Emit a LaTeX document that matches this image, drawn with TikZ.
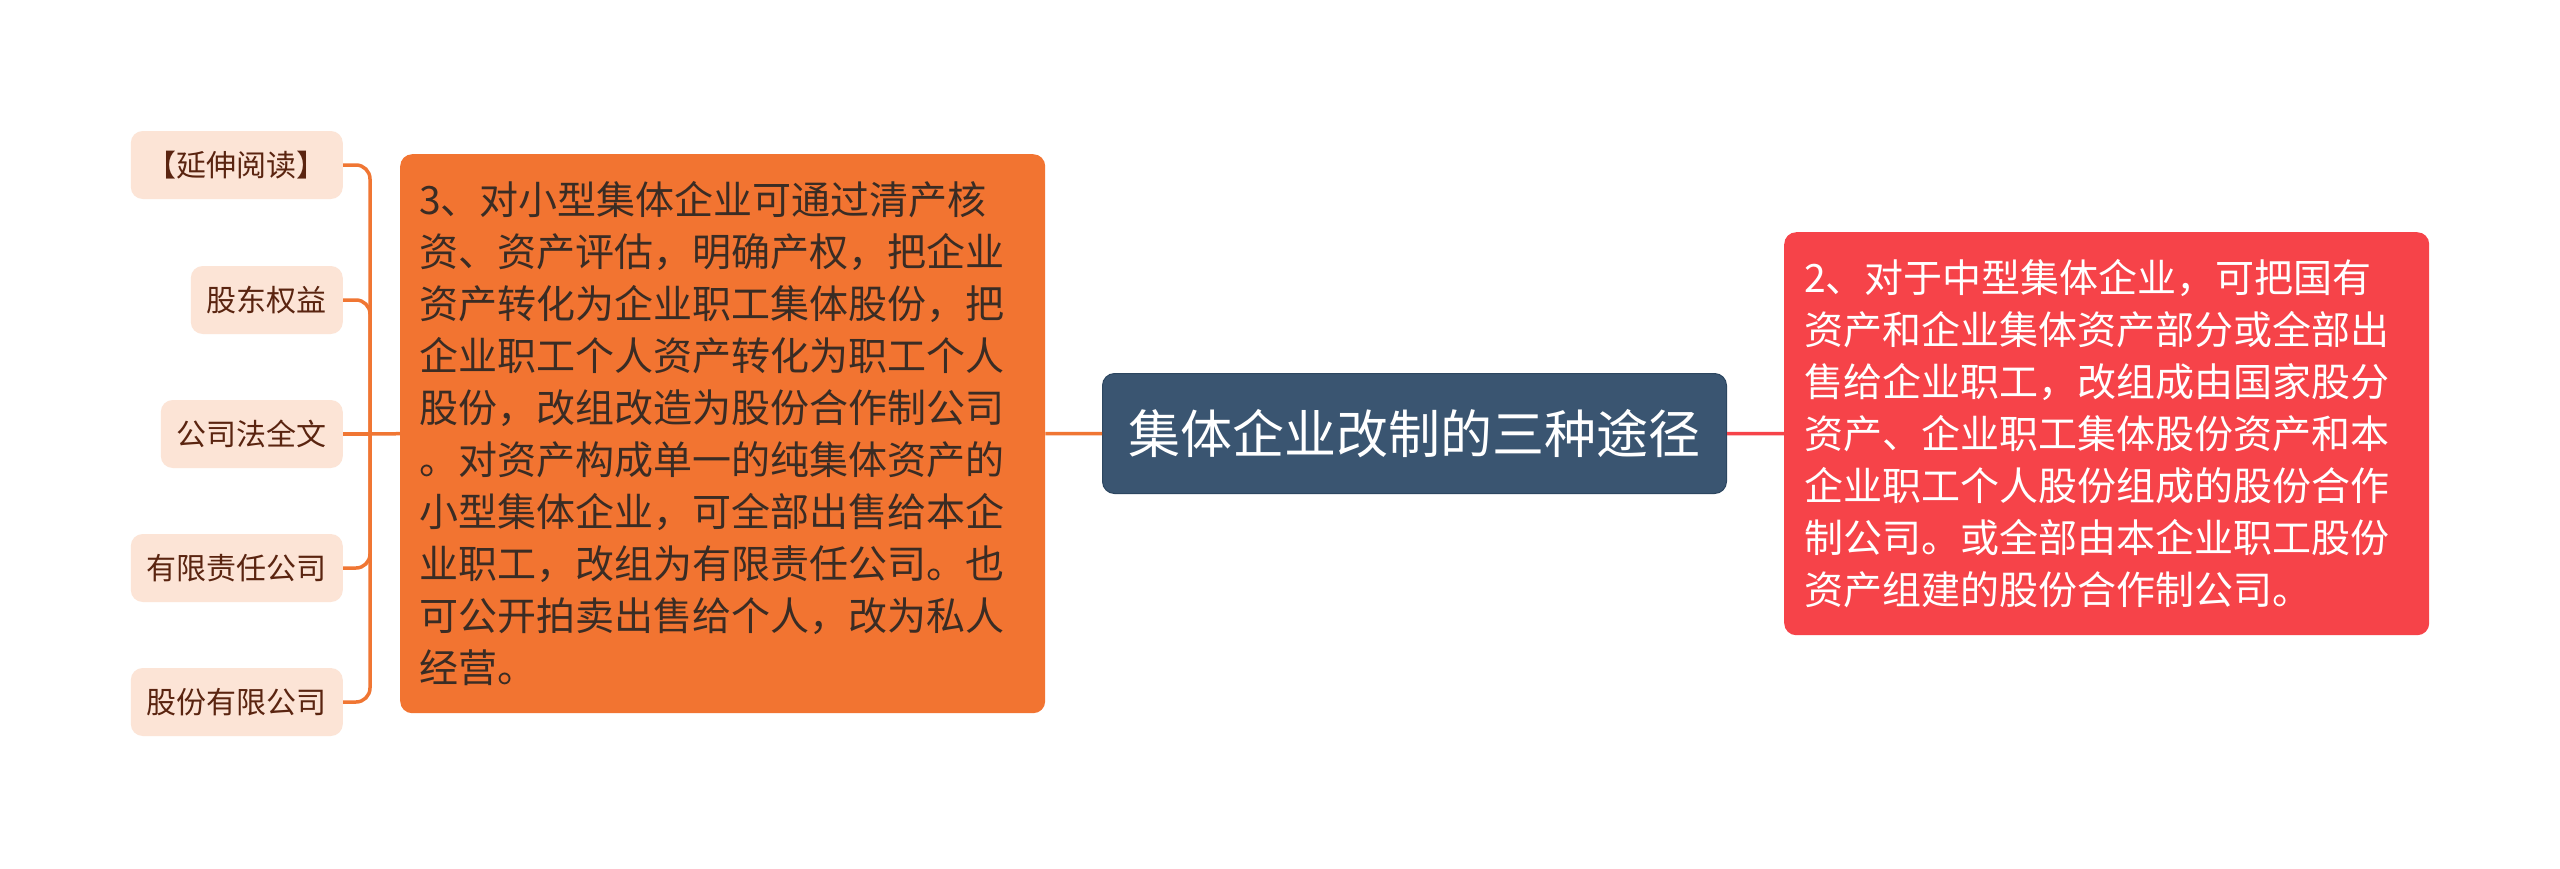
\documentclass[tikz,border=0pt]{standalone}
\usepackage{fontspec}
\setmainfont{Noto Sans CJK SC}
\definecolor{orangeBox}{HTML}{F27431}
\definecolor{orangeLine}{HTML}{F07633}
\definecolor{redBox}{HTML}{F64349}
\definecolor{centerBox}{HTML}{3A5571}
\definecolor{centerEdge}{HTML}{2C4660}
\definecolor{leafFill}{HTML}{FCE4D6}
\definecolor{leafText}{HTML}{5A2410}
\definecolor{darkText}{HTML}{3A2C24}
\tikzset{
  leafbox/.style={fill=leafFill, rounded corners=12pt, text=leafText,
    font=\fontsize{30pt}{36pt}\selectfont, minimum height=68pt,
    inner xsep=16pt, inner ysep=0pt, anchor=east},
  bigbox/.style={rounded corners=12pt, align=left, anchor=north west,
    font=\fontsize{39pt}{52pt}\selectfont, inner ysep=0pt},
  centerbox/.style={fill=centerBox, draw=centerEdge, line width=1pt,
    rounded corners=12pt, text=white, font=\fontsize{52pt}{60pt}\selectfont,
    minimum width=624pt, minimum height=120pt, anchor=north west},
  conn/.style={line width=3.5pt, draw=orangeLine},
  redconn/.style={line width=3.5pt, draw=redBox}
}
\begin{document}
\begin{tikzpicture}[x=1pt, y=-1pt]
\useasboundingbox[fill=white] (0,0) rectangle (2560,868);

\node[centerbox] (center) at (1102,373) {集体企业改制的三种途径};

\node[bigbox, fill=orangeBox, text=darkText, minimum width=645pt, minimum height=559pt,
      text width=607pt, inner xsep=19pt] (orange) at (400,154)
{3、对小型集体企业可通过清产核\\
资、资产评估，明确产权，把企业\\
资产转化为企业职工集体股份，把\\
企业职工个人资产转化为职工个人\\
股份，改组改造为股份合作制公司\\
。对资产构成单一的纯集体资产的\\
小型集体企业，可全部出售给本企\\
业职工，改组为有限责任公司。也\\
可公开拍卖出售给个人，改为私人\\
经营。};

\node[bigbox, fill=redBox, text=white, minimum width=645pt, minimum height=403pt,
      text width=605pt, inner xsep=20pt] (red) at (1784,232)
{2、对于中型集体企业，可把国有\\
资产和企业集体资产部分或全部出\\
售给企业职工，改组成由国家股分\\
资产、企业职工集体股份资产和本\\
企业职工个人股份组成的股份合作\\
制公司。或全部由本企业职工股份\\
资产组建的股份合作制公司。};

\node[leafbox] (l1) at (343,165) {【延伸阅读】};
\node[leafbox] (l2) at (343,300) {股东权益};
\node[leafbox] (l3) at (343,434) {公司法全文};
\node[leafbox] (l4) at (343,568) {有限责任公司};
\node[leafbox] (l5) at (343,702) {股份有限公司};

\draw[conn] (center.west) -- (orange.east);
\draw[redconn] (center.east) -- (red.west);

\coordinate (trunk) at (370,434);
\draw[conn] (orange.west) -- (trunk);
\draw[conn, rounded corners=14pt] (trunk) |- (l1.east);
\draw[conn, rounded corners=14pt] (trunk) |- (l2.east);
\draw[conn] (trunk) -- (l3.east);
\draw[conn, rounded corners=14pt] (trunk) |- (l4.east);
\draw[conn, rounded corners=14pt] (trunk) |- (l5.east);
\end{tikzpicture}
\end{document}
